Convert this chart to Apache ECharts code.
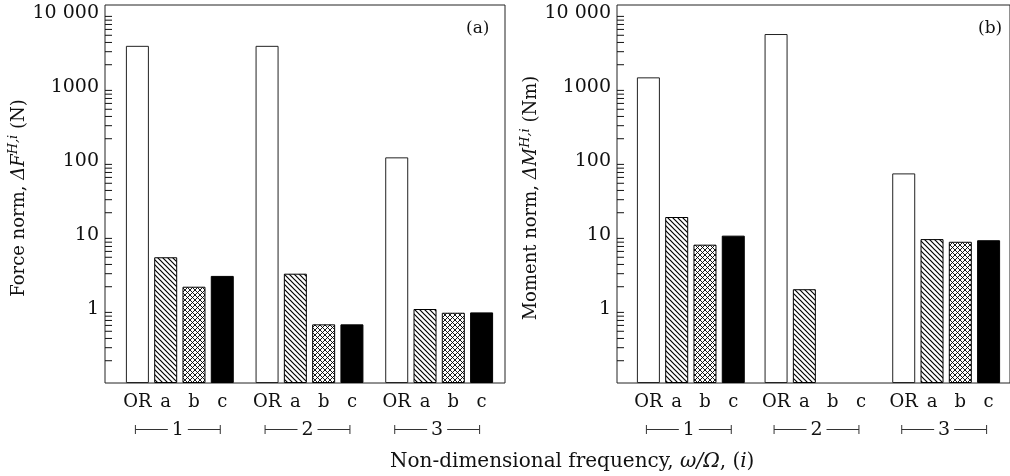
<!DOCTYPE html>
<html>
<head>
<meta charset="utf-8">
<script src="https://cdn.jsdelivr.net/npm/echarts@6/dist/echarts.min.js"></script>
<style>
  html, body { margin: 0; padding: 0; background: #fff; }
  #chart { width: 1010px; height: 476px; }
</style>
</head>
<body>
<div id="chart"></div>
<script>
// frequency groups on the x axis and the four bars inside each group
const groups = ['1', '2', '3']
const barNames = ['OR', 'a', 'b', 'c']
const tickValues = [1, 10, 100, 1000, 10000]
const tickLabels = ['1', '10', '100', '1000', '10 000']
const minorTicks = [
  0.2, 0.3, 0.4, 0.5, 0.6, 0.7, 0.8, 0.9,
  2, 3, 4, 5, 6, 7, 8, 9,
  20, 30, 40, 50, 60, 70, 80, 90,
  200, 300, 400, 500, 600, 700, 800, 900,
  2000, 3000, 4000, 5000, 6000, 7000, 8000, 9000
]

// (a) force norm (N), one value per group
const forceOR = [3600, 3600, 112]
const forceA = [5.0, 3.0, 1.0]
const forceB = [2.0, 0.62, 0.89]
const forceC = [2.8, 0.62, 0.90]

// (b) moment norm (Nm), group 2 has no b / c bar
const momentOR = [1350, 5200, 68]
const momentA = [17.5, 1.85, 8.8]
const momentB = [7.4, null, 8.1]
const momentC = [9.8, null, 8.5]

const FONT = 'DejaVu Serif'
const INK = '#111'
const yMin = 0.1
const yMax = 10000
const barWidth = 23
const barGapRatio = 0.23
const axisShift = 10

// small repeating tiles for the hatched bars
function hatch(cross) {
  const s = 5
  const c = document.createElement('canvas')
  c.width = s
  c.height = s
  const ctx = c.getContext('2d')
  ctx.fillStyle = '#fff'
  ctx.fillRect(0, 0, s, s)
  ctx.strokeStyle = '#000'
  ctx.lineWidth = cross ? 0.9 : 1.2
  ctx.beginPath()
  for (let k = -1; k <= 1; k++) {
    ctx.moveTo(k * s - 1, -1)
    ctx.lineTo(k * s + s + 1, s + 1)
    if (cross) {
      ctx.moveTo(k * s + s + 1, -1)
      ctx.lineTo(k * s - 1, s + 1)
    }
  }
  ctx.stroke()
  return c
}

const styles = [
  { color: '#fff', borderColor: '#222', borderWidth: 1 },
  { color: { image: hatch(false), repeat: 'repeat' }, borderColor: '#000', borderWidth: 1 },
  { color: { image: hatch(true), repeat: 'repeat' }, borderColor: '#000', borderWidth: 1 },
  { color: '#000', borderColor: '#000', borderWidth: 1 }
]

function barSeries(i, data, axis) {
  return {
    type: 'bar',
    name: barNames[i],
    xAxisIndex: axis,
    yAxisIndex: axis,
    data: data,
    startValue: yMin,
    barWidth: barWidth,
    barGap: (barGapRatio * 100) + '%',
    itemStyle: styles[i],
    silent: true
  }
}

// "|-- 1 --|" bracket under each group
function bracketSeries(axis) {
  return {
    type: 'custom',
    xAxisIndex: axis,
    yAxisIndex: axis,
    silent: true,
    clip: false,
    data: groups.map((g, i) => [i, yMin]),
    renderItem: function (params, api) {
      const idx = api.value(0)
      const p = api.coord([idx, yMin])
      const x = p[0] - 2
      const y = p[1] + 46.5
      const half = 1.5 * barWidth * (1 + barGapRatio)
      const line = { stroke: '#333', lineWidth: 1 }
      return {
        type: 'group',
        children: [
          { type: 'line', shape: { x1: x - half, y1: y, x2: x - 10, y2: y }, style: line },
          { type: 'line', shape: { x1: x + 10, y1: y, x2: x + half, y2: y }, style: line },
          { type: 'line', shape: { x1: x - half, y1: y - 4.5, x2: x - half, y2: y + 4.5 }, style: line },
          { type: 'line', shape: { x1: x + half, y1: y - 4.5, x2: x + half, y2: y + 4.5 }, style: line },
          {
            type: 'text',
            style: {
              text: groups[idx], x: x, y: y + 1, align: 'center', verticalAlign: 'middle',
              fontFamily: FONT, fontSize: 19, fill: INK
            }
          }
        ]
      }
    }
  }
}

// short ticks for 2..9 of every decade, drawn on the shifted y axis
function minorTickSeries(axis) {
  return {
    type: 'custom',
    xAxisIndex: axis,
    yAxisIndex: axis,
    silent: true,
    clip: false,
    data: minorTicks.map(v => [0, v]),
    renderItem: function (params, api) {
      const y = api.coord([0, api.value(1)])[1]
      const x0 = params.coordSys.x - axisShift
      return {
        type: 'line',
        shape: { x1: x0, y1: y, x2: x0 + 7, y2: y },
        style: { stroke: INK, lineWidth: 1 }
      }
    }
  }
}

function xAxis(gridIndex) {
  return {
    type: 'category',
    gridIndex: gridIndex,
    data: groups,
    axisLine: { show: false },
    axisTick: { show: false },
    axisLabel: {
      interval: 0,
      margin: 10,
      formatter: () => barNames.map(n => '{l|' + n + '}').join(''),
      rich: {
        l: { width: barWidth * (1 + barGapRatio), align: 'center', fontFamily: FONT, fontSize: 18, color: INK }
      }
    }
  }
}

function yAxis(gridIndex, name) {
  return {
    type: 'log',
    logBase: 10,
    gridIndex: gridIndex,
    min: yMin,
    max: yMax,
    startValue: yMin,
    offset: axisShift,
    axisLine: { show: false },
    axisTick: { inside: true, length: 14, lineStyle: { color: INK, width: 1 } },
    minorTick: { show: false },
    splitLine: { show: false },
    axisLabel: {
      margin: 6,
      fontFamily: FONT,
      fontSize: 19,
      color: INK,
      formatter: function (v) {
        const i = tickValues.findIndex(t => Math.abs(t - v) / t < 1e-6)
        return i >= 0 ? tickLabels[i] : ''
      }
    },
    name: name,
    nameLocation: 'middle',
    nameGap: 68,
    nameTextStyle: {
      fontFamily: FONT,
      fontSize: 18,
      color: INK,
      rich: {
        t: { fontFamily: FONT, fontSize: 18, color: INK, lineHeight: 24 },
        it: { fontFamily: FONT, fontSize: 18, fontStyle: 'italic', color: INK, lineHeight: 24 },
        sup: { fontFamily: FONT, fontSize: 13, fontStyle: 'italic', color: INK, lineHeight: 14, verticalAlign: 'top' }
      }
    }
  }
}

const frame = { show: true, backgroundColor: 'transparent', borderColor: '#222', borderWidth: 1 }
const plain = { fontFamily: FONT, fontSize: 18, fontWeight: 'normal', color: INK }
const caption = Object.assign({}, plain, { fontSize: 20 })

const option = {
  animation: false,
  backgroundColor: '#fff',
  textStyle: { fontFamily: FONT },
  title: [
    { text: '(a)', left: 466, top: 20, padding: 0, textStyle: Object.assign({}, plain, { fontSize: 17 }) },
    { text: '(b)', left: 978, top: 20, padding: 0, textStyle: Object.assign({}, plain, { fontSize: 17 }) },
    {
      text: '{t|Non-dimensional frequency, }{i|ω/Ω}{t|, (}{i|i}{t|)}',
      left: 390,
      top: 452,
      padding: 0,
      textStyle: {
        fontWeight: 'normal',
        rich: {
          t: caption,
          i: Object.assign({}, caption, { fontStyle: 'italic' })
        }
      }
    }
  ],
  grid: [
    Object.assign({ left: 105, top: 5, width: 400, height: 378 }, frame),
    Object.assign({ left: 617, top: 5, width: 400, height: 378 }, frame),
    { left: 115, top: 13, width: 389, height: 370 },
    { left: 627, top: 13, width: 389, height: 370 }
  ],
  xAxis: [xAxis(2), xAxis(3)],
  yAxis: [
    yAxis(2, '{t|Force norm, }{it|ΔF}{sup|H,i}{t| (N)}'),
    yAxis(3, '{t|Moment norm, }{it|ΔM}{sup|H,i}{t| (Nm)}')
  ],
  series: [
    barSeries(0, forceOR, 0),
    barSeries(1, forceA, 0),
    barSeries(2, forceB, 0),
    barSeries(3, forceC, 0),
    bracketSeries(0),
    minorTickSeries(0),
    barSeries(0, momentOR, 1),
    barSeries(1, momentA, 1),
    barSeries(2, momentB, 1),
    barSeries(3, momentC, 1),
    bracketSeries(1),
    minorTickSeries(1)
  ]
}

const chart = echarts.init(document.getElementById('chart'), null, { renderer: 'canvas' })
chart.setOption(option)
</script>
</body>
</html>
